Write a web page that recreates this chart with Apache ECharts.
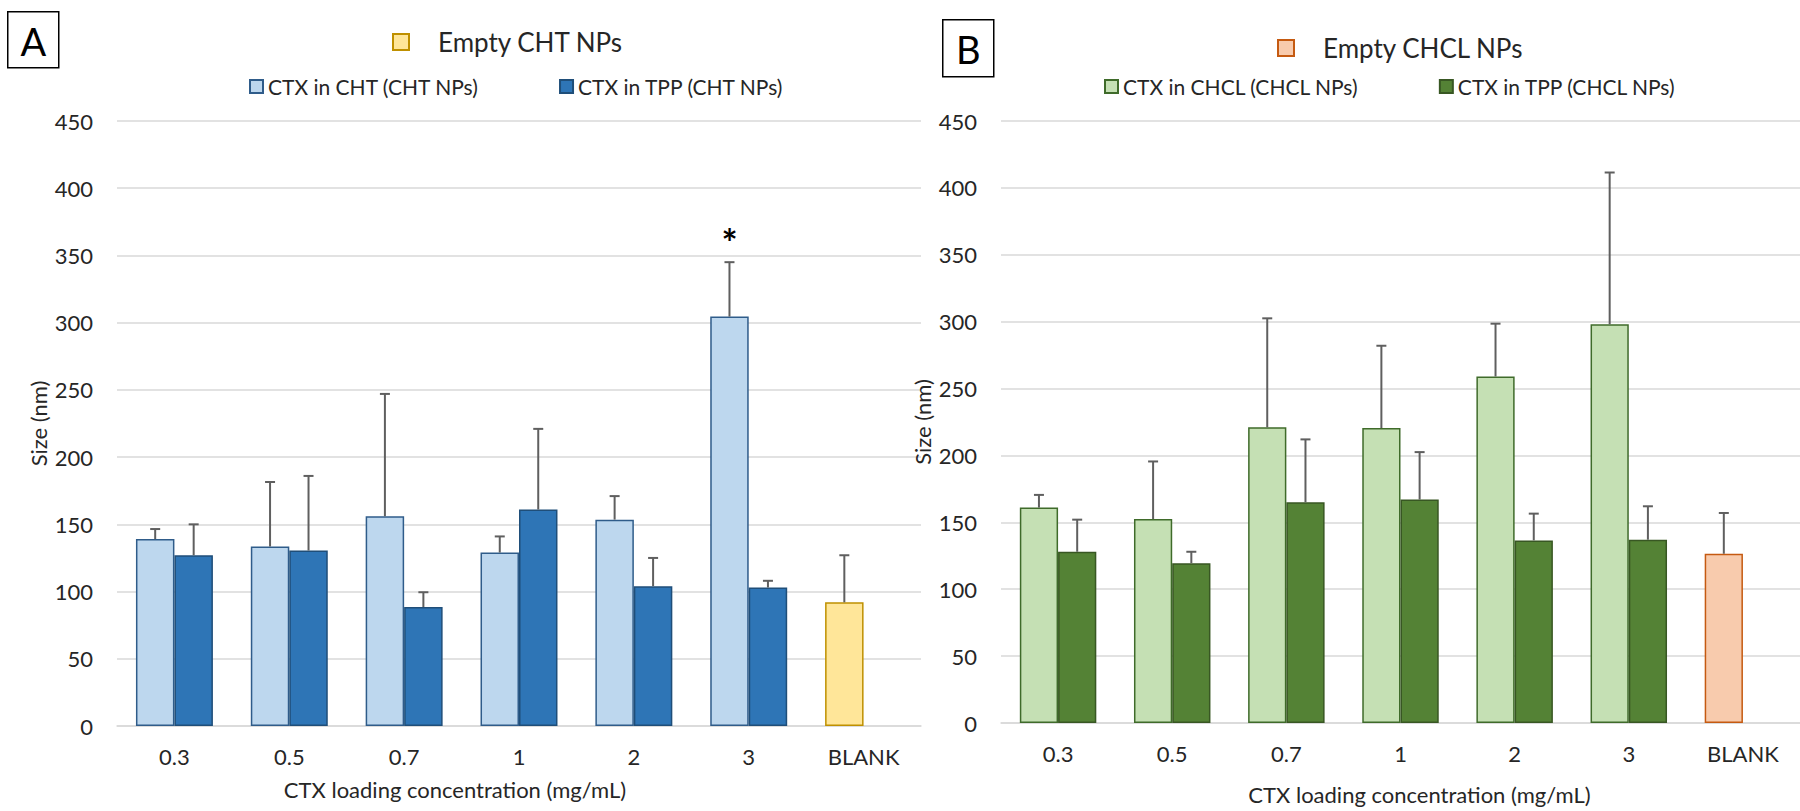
<!DOCTYPE html>
<html>
<head>
<meta charset="utf-8">
<script src="https://cdn.jsdelivr.net/npm/echarts@6/dist/echarts.min.js"></script>
<style>
  html, body { margin: 0; padding: 0; background: #fff; }
  #chartmain { width: 1800px; height: 811px; }
</style>
</head>
<body>
<div id="chartmain"></div>
<script>
// categories and tick labels
var cats = ['0.3', '0.5', '0.7', '1', '2', '3', 'BLANK'];
var yTicks = [0, 50, 100, 150, 200, 250, 300, 350, 400, 450];

// panel A - CHT NPs (mean, sd)
var chtA = [139, 133.5, 156, 129, 153.5, 304.5, '-'];
var chtA_sd = [7.5, 48, 91, 12, 17.5, 40.5, '-'];
var tppA = [127, 130.5, 88.5, 161, 104, 103, '-'];
var tppA_sd = [23, 55.5, 11, 60, 21, 5, '-'];
var emptyA = ['-', '-', '-', '-', '-', '-', 92];
var emptyA_sd = ['-', '-', '-', '-', '-', '-', 35];
var sigA = ['', '', '', '', '', '*', ''];

// panel B - CHCL NPs (mean, sd)
var chclB = [161, 152.5, 221, 220.5, 259, 298, '-'];
var chclB_sd = [9.5, 43, 81.5, 61.5, 39.5, 113.5, '-'];
var tppB = [128, 119.5, 165, 167, 136.5, 137, '-'];
var tppB_sd = [24, 8.5, 47, 35.5, 20, 25, '-'];
var emptyB = ['-', '-', '-', '-', '-', '-', 126.5];
var emptyB_sd = ['-', '-', '-', '-', '-', '-', 30.5];
var sigB = ['', '', '', '', '', '', ''];

var BAR_FRAC = 0.335;
var FONT = 'Lato';

// error bar points: [catIndex, mean, sd, side]
function errData(vals, sds, side) {
    var out = [];
    for (var i = 0; i < vals.length; i++) {
        if (vals[i] === '-') continue;
        out.push([i, vals[i], sds[i], side]);
    }
    return out;
}

function errRender(sig) {
    return function (params, api) {
        var idx = api.value(0), v = api.value(1), e = api.value(2), side = api.value(3);
        var x = api.coord([idx, 0])[0];
        var bw = api.size([1, 0])[0] * BAR_FRAC;
        var cx = x + side * bw / 2;
        var yBase = api.coord([idx, v])[1];
        var yTop = api.coord([idx, v + e])[1];
        var st = { stroke: '#5f5f5f', lineWidth: 2 };
        var kids = [
            { type: 'line', shape: { x1: cx, y1: yBase, x2: cx, y2: yTop }, style: st },
            { type: 'line', shape: { x1: cx - 5, y1: yTop, x2: cx + 5, y2: yTop }, style: st }
        ];
        if (side < 0 && sig[idx]) {
            kids.push({
                type: 'text',
                style: { text: sig[idx], x: cx, y: yTop - 20, align: 'center', verticalAlign: 'middle',
                         fontSize: 38, fontWeight: 'bold', fontFamily: FONT, fill: '#000' }
            });
        }
        return { type: 'group', children: kids };
    };
}

function barSeries(name, data, idx, fill, border, stack) {
    return {
        name: name, type: 'bar', data: data,
        xAxisIndex: idx, yAxisIndex: idx,
        stack: stack, barWidth: (BAR_FRAC * 100) + '%', barGap: '0%',
        itemStyle: { color: fill, borderColor: border, borderWidth: 1.5 }
    };
}

function errSeries(data, idx, sig) {
    return {
        type: 'custom', xAxisIndex: idx, yAxisIndex: idx,
        data: data, renderItem: errRender(sig), z: 5,
        encode: { x: 0, y: 1 }, silent: true
    };
}

function yAxis(idx) {
    return {
        gridIndex: idx, type: 'value', min: 0, max: 450, interval: 50,
        name: 'Size (nm)', nameLocation: 'middle', nameGap: 68,
        nameTextStyle: { fontSize: 22, fontFamily: FONT, color: '#262626' },
        axisLine: { show: false }, axisTick: { show: false },
        axisLabel: { fontSize: 22, fontFamily: FONT, color: '#262626', margin: 24 },
        splitLine: { lineStyle: { color: '#d9d9d9', width: 1.5 } }
    };
}

function xAxis(idx, pad, gap) {
    return {
        gridIndex: idx, type: 'category', data: cats,
        name: 'CTX loading concentration (mg/mL)', nameLocation: 'middle', nameGap: gap,
        nameTextStyle: { fontSize: 22, fontFamily: FONT, color: '#262626', padding: pad },
        axisLine: { lineStyle: { color: '#d9d9d9', width: 1.5 } },
        axisTick: { show: false },
        axisLabel: { fontSize: 22, fontFamily: FONT, color: '#262626', margin: 19 }
    };
}

function legend(names, left, top, size, fontSize, textPad) {
    return {
        data: names, left: left, top: top, orient: 'horizontal',
        itemWidth: size, itemHeight: size, itemGap: 80, icon: 'rect',
        selectedMode: false,
        textStyle: { fontSize: fontSize, fontFamily: FONT, color: '#262626', padding: [0, 0, 0, textPad] }
    };
}

function box(label, x, y, w, h) {
    return {
        type: 'group', left: x, top: y,
        children: [
            { type: 'rect', shape: { x: 0, y: 0, width: w, height: h },
              style: { fill: '#fff', stroke: '#000', lineWidth: 1.5 } },
            { type: 'text', x: w / 2, y: h / 2 + 1,
              style: { text: label, fontSize: 38, fontFamily: FONT, fill: '#000',
                       align: 'center', verticalAlign: 'middle' } }
        ]
    };
}

var option = {
    animation: false,
    backgroundColor: '#fff',
    grid: [
        { left: 117, top: 121, width: 804, height: 605 },
        { left: 1001, top: 121, width: 799, height: 602 }
    ],
    xAxis: [xAxis(0, [0, 128, 0, 0], 52), xAxis(1, [0, 0, 0, 38], 60)],
    yAxis: [yAxis(0), yAxis(1)],
    legend: [
        legend(['Empty CHT NPs'], 387, 24, 16, 26, 24),
        legend(['CTX in CHT (CHT NPs)', 'CTX in TPP (CHT NPs)'], 244, 71, 13, 21, 0),
        legend(['Empty CHCL NPs'], 1272, 30, 16, 26, 24),
        legend(['CTX in CHCL (CHCL NPs)', 'CTX in TPP (CHCL NPs)'], 1099, 71, 13, 21, 0)
    ],
    graphic: [box('A', 7, 11, 51, 56), box('B', 942, 19, 51, 57)],
    series: [
        barSeries('CTX in CHT (CHT NPs)', chtA, 0, '#bdd7ee', '#2f5c8a', 'a'),
        barSeries('CTX in TPP (CHT NPs)', tppA, 0, '#2e75b6', '#1f4e79', 'b'),
        barSeries('Empty CHT NPs', emptyA, 0, '#ffe699', '#bf9000', 'a'),
        errSeries(errData(chtA, chtA_sd, -1), 0, sigA),
        errSeries(errData(tppA, tppA_sd, 1), 0, sigA),
        errSeries(errData(emptyA, emptyA_sd, -1), 0, sigA),

        barSeries('CTX in CHCL (CHCL NPs)', chclB, 1, '#c5e0b4', '#3f6b2a', 'c'),
        barSeries('CTX in TPP (CHCL NPs)', tppB, 1, '#548235', '#385723', 'd'),
        barSeries('Empty CHCL NPs', emptyB, 1, '#f8cbad', '#c55a11', 'c'),
        errSeries(errData(chclB, chclB_sd, -1), 1, sigB),
        errSeries(errData(tppB, tppB_sd, 1), 1, sigB),
        errSeries(errData(emptyB, emptyB_sd, -1), 1, sigB)
    ]
};

var myChart = echarts.init(document.getElementById('chartmain'), null, { renderer: 'svg' });
myChart.setOption(option);
</script>
</body>
</html>
